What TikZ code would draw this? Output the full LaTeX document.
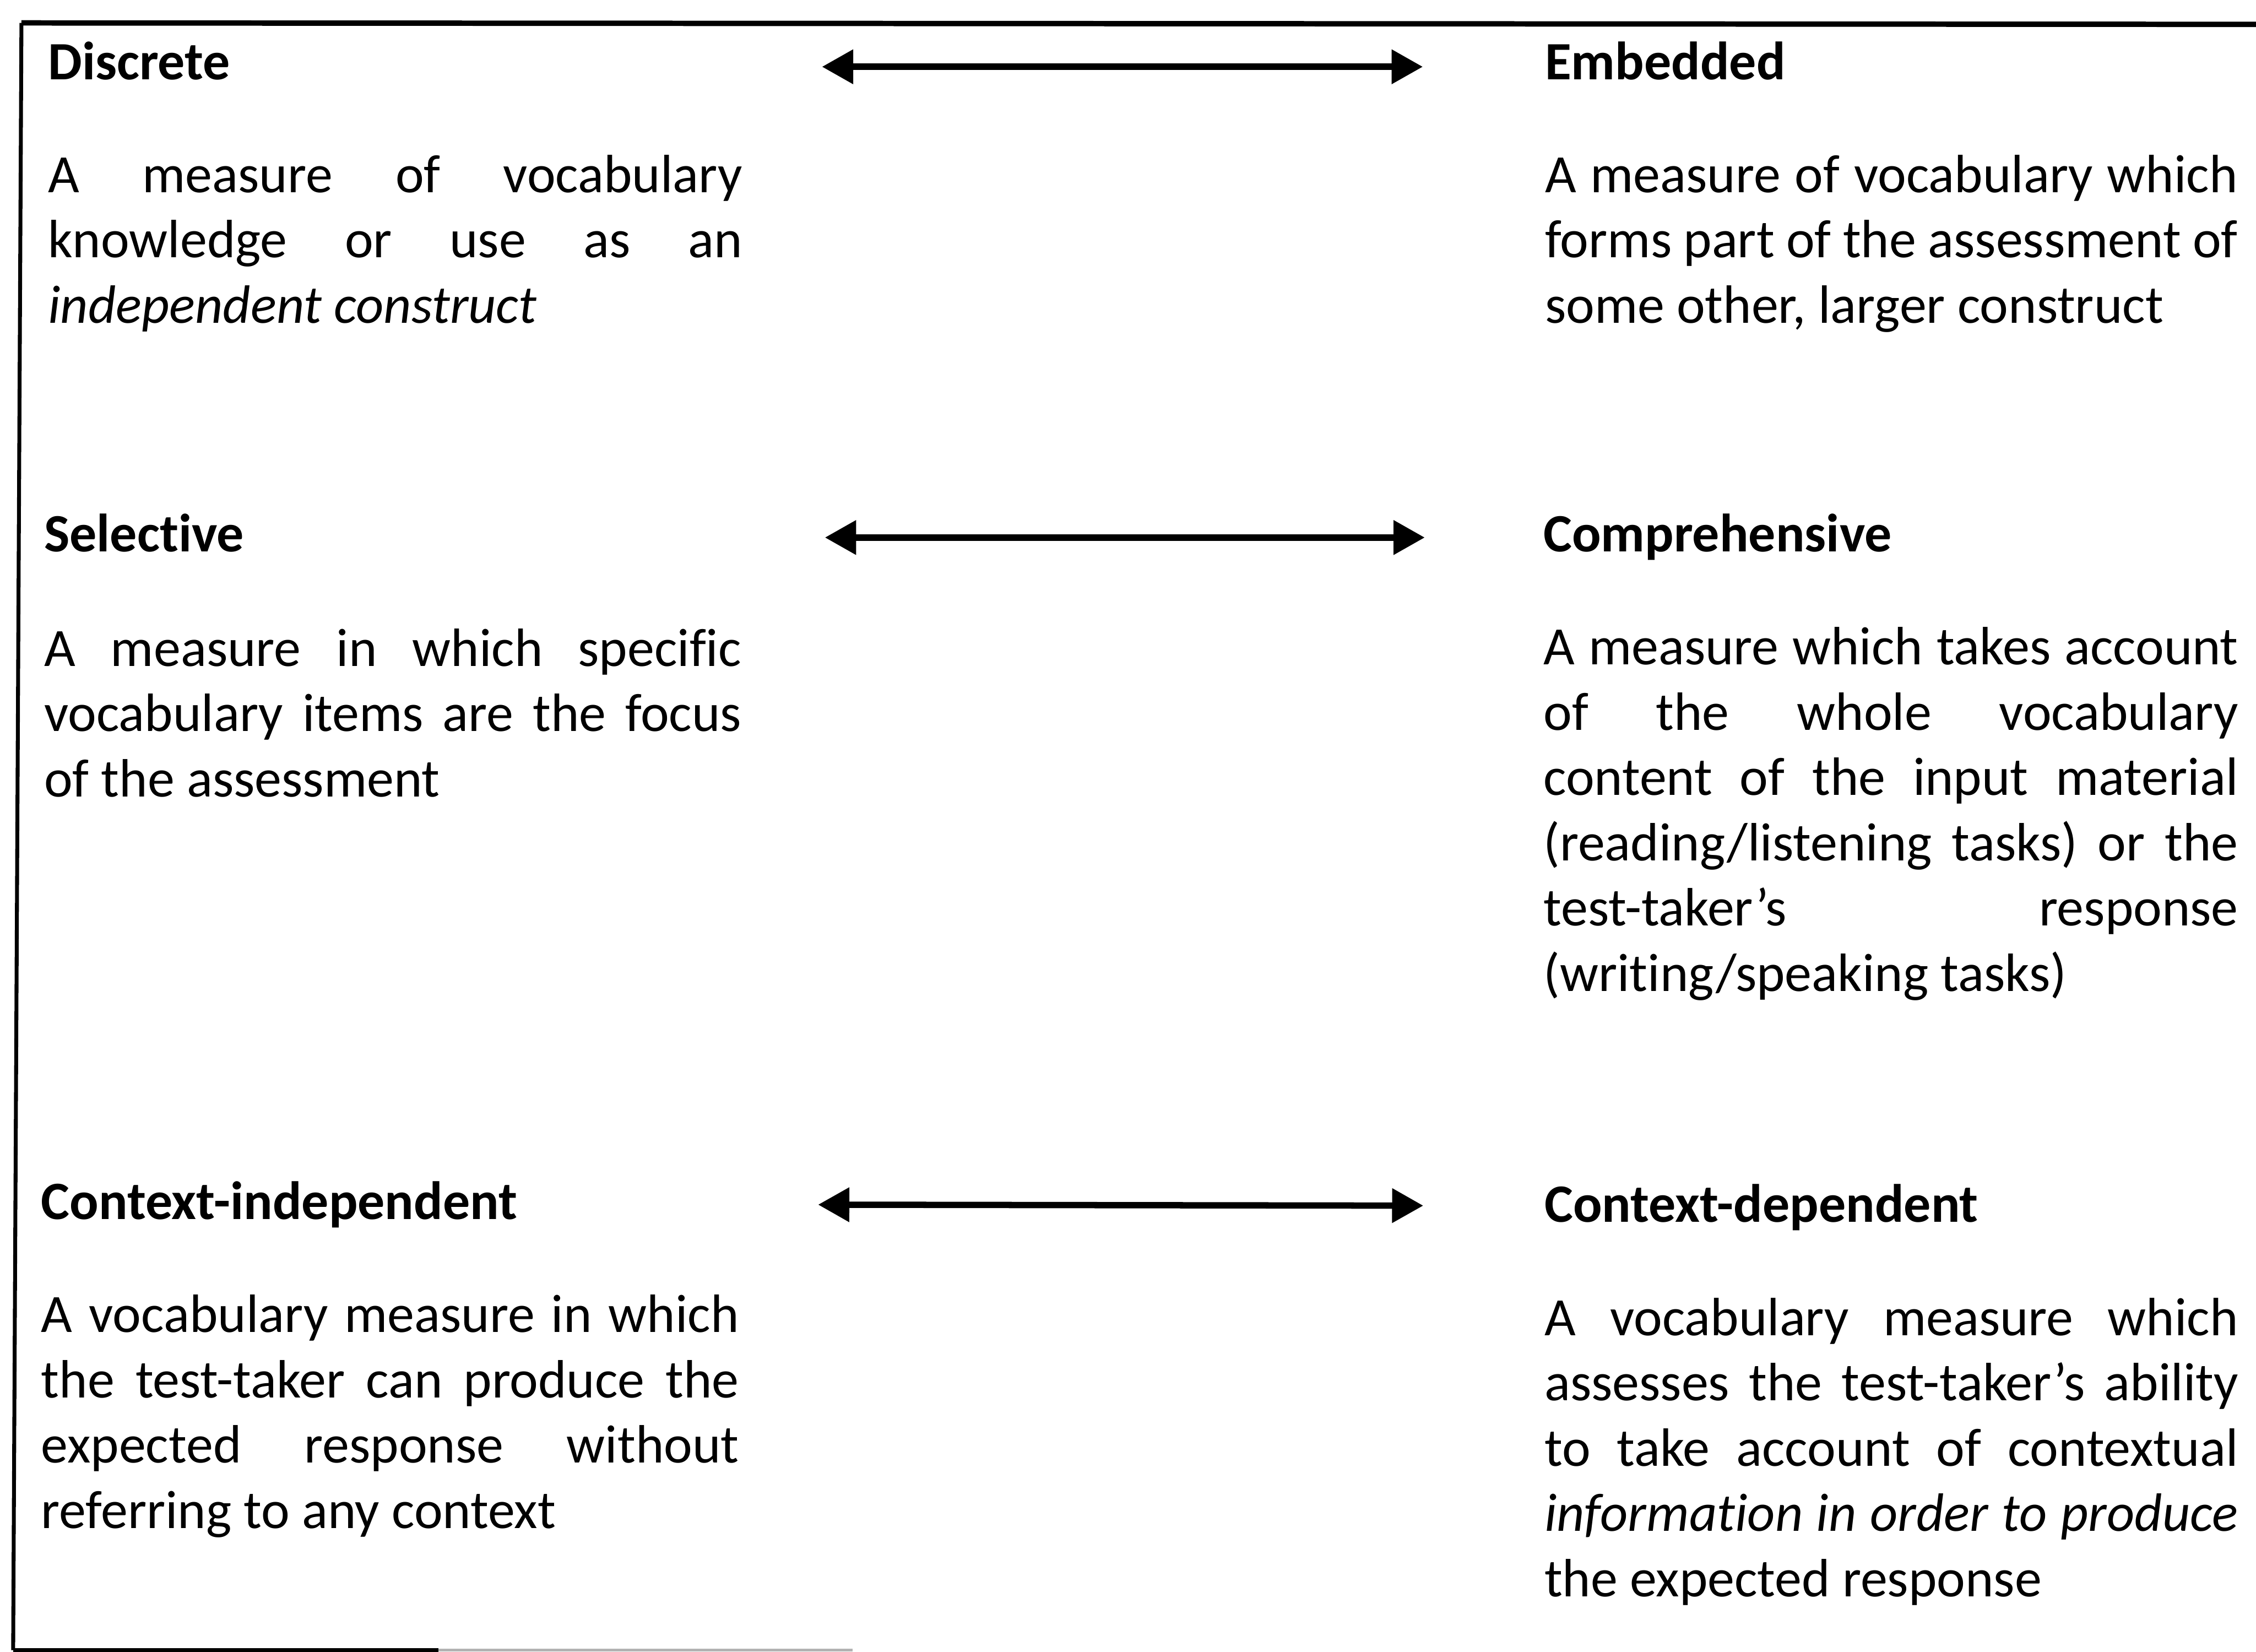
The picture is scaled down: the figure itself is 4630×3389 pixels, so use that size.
\documentclass[tikz,border=0pt]{standalone}
\usepackage{fontspec}
\setmainfont{Carlito}[Ligatures={TeX,NoCommon}]
\usetikzlibrary{arrows.meta}
\tolerance=10000
\hbadness=10000
\parindent=0pt
\newcommand{\mainsize}{\fontsize{31.5}{38.1}\selectfont}

\begin{document}
\begin{tikzpicture}[x=0.01cm, y=-0.01cm,
  every node/.style={inner sep=0pt, anchor=base west, font=\mainsize},
  heading/.style={font=\mainsize\bfseries},
  defn/.style={text width=14.24cm, align=justify},
  twoway/.style={{Triangle[length=0.64cm,width=0.68cm]}-{Triangle[length=0.64cm,width=0.68cm]}, line width=0.13cm}]
\useasboundingbox (0,0) rectangle (4630,3389);
% frame (top, left and the bit of bottom that shows)
\draw[line width=0.11cm] (44,47) -- (4630,50);
\draw[line width=0.08cm] (44,47) -- (27,3386);
\draw[line width=0.08cm] (27,3386) -- (900,3386);
\draw[line width=0.05cm, gray!60] (900,3386) -- (1750,3386);

\node[heading] (disc) at (98,163) {Discrete};
\node[defn] (discdef) at (98,395) {A measure of vocabulary\linebreak knowledge or use as an\linebreak \textit{independent construct}};
\node[heading] (emb) at (3170,163) {Embedded};
\node[defn, text width=14.21cm] (embdef) at (3170,395) {A measure of vocabulary which\linebreak forms part of the assessment of\linebreak some other, larger construct};

\node[heading] (sel) at (90,1132) {Selective};
\node[defn, text width=14.3cm] (seldef) at (90,1367) {A measure in which specific\linebreak vocabulary items are the focus\linebreak of the assessment};
\node[heading] (comp) at (3167,1132) {Comprehensive};
\node[defn, text width=14.25cm] (compdef) at (3167,1364) {A measure which takes account\linebreak of the whole vocabulary\linebreak content of the input material\linebreak (reading/listening tasks) or the\linebreak test-taker’s response\linebreak (writing/speaking tasks)};

\node[heading] (cind) at (84,2502) {Context-independent};
\node[defn, text width=14.31cm] (cinddef) at (84,2734) {A vocabulary measure in which\linebreak the test-taker can produce the\linebreak expected response without\linebreak referring to any context};
\node[heading] (cdep) at (3169,2508) {Context-dependent};
\node[defn, text width=14.23cm] (cdepdef) at (3169,2740) {A vocabulary measure which\linebreak assesses the test-taker’s ability\linebreak to take account of contextual\linebreak \textit{information in order to produce}\linebreak the expected response};

% arrows between the pairs
\coordinate (a1) at (1687,137);
\coordinate (b1) at (2920,137);
\coordinate (a2) at (1693,1103);
\coordinate (b2) at (2924,1103);
\coordinate (a3) at (1679,2472);
\coordinate (b3) at (2921,2474);
\draw[twoway] (a1) -- (b1);
\draw[twoway] (a2) -- (b2);
\draw[twoway] (a3) -- (b3);
\end{tikzpicture}
\end{document}
